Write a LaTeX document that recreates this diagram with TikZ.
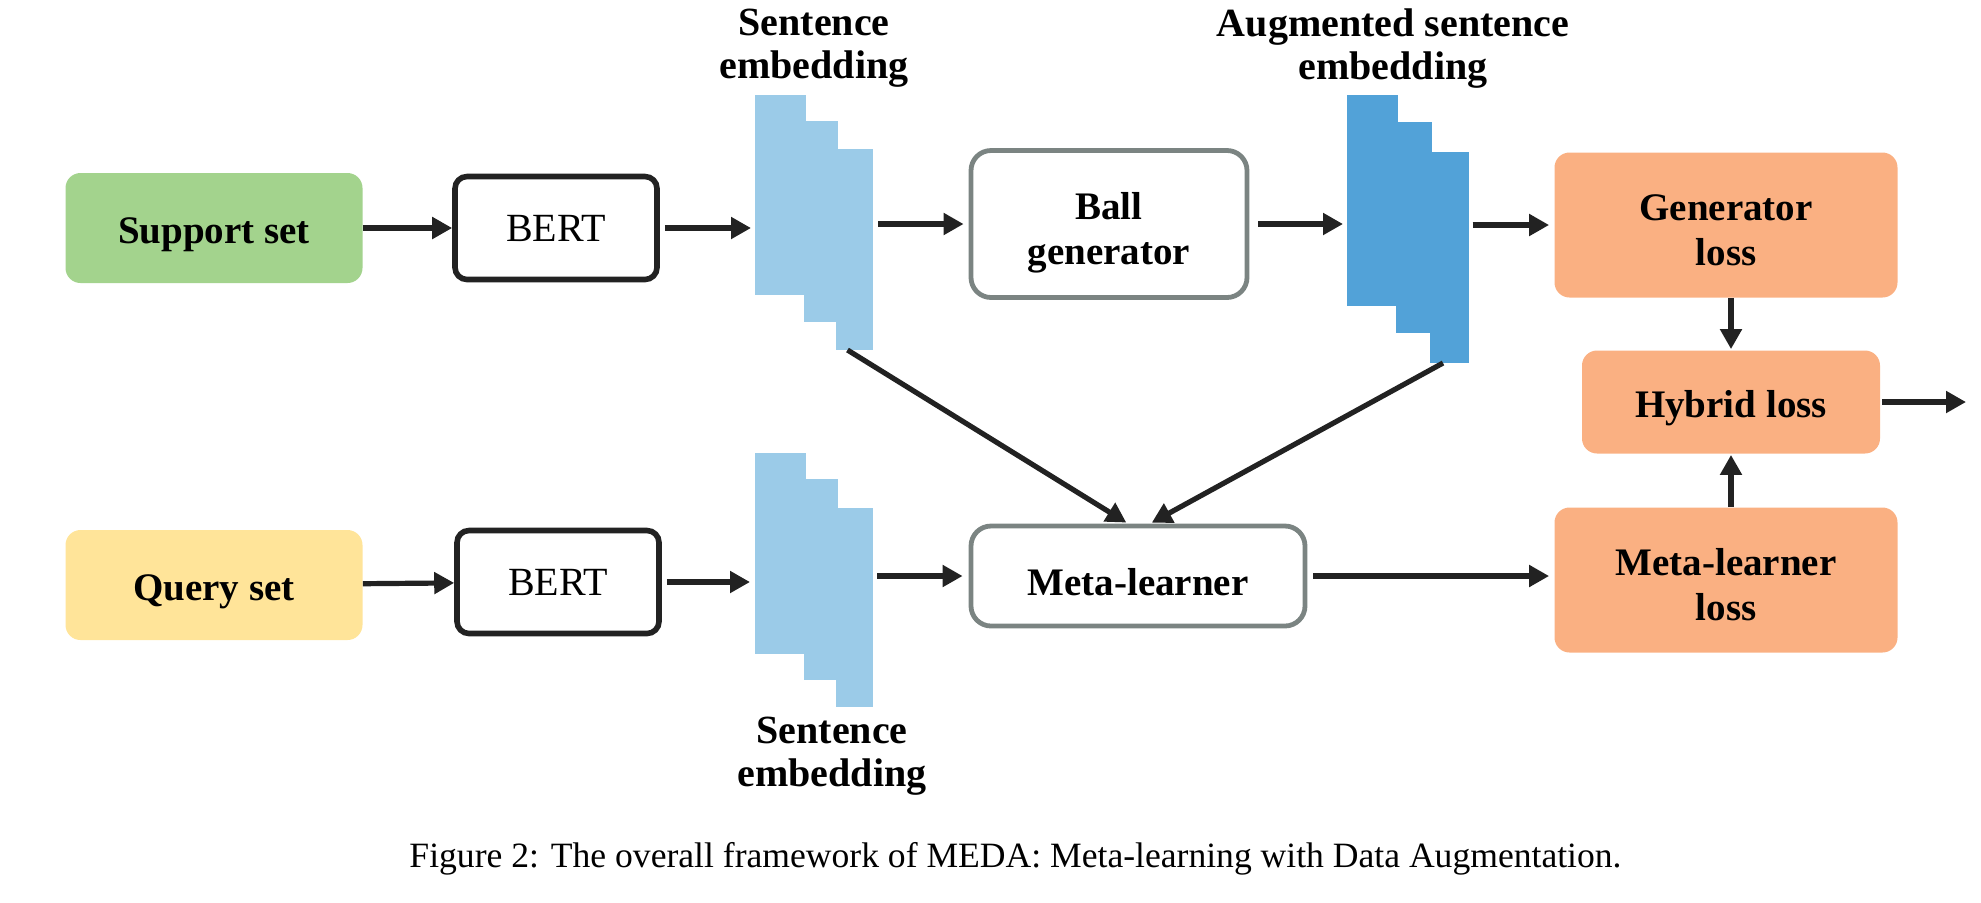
\documentclass[tikz,border=0pt]{standalone}
\usepackage{fontspec}
\setmainfont{Liberation Serif}
\usetikzlibrary{arrows.meta}

\definecolor{supgreen}{HTML}{A3D38D}
\definecolor{qryyellow}{HTML}{FFE499}
\definecolor{lossorange}{HTML}{FAB082}
\definecolor{embblue}{HTML}{9BCBE8}
\definecolor{augblue}{HTML}{52A2D8}
\definecolor{edgegray}{HTML}{7B8482}
\definecolor{inkblack}{HTML}{222222}

\begin{document}
\begin{tikzpicture}[x=0.5pt, y=-0.5pt,
  boxfont/.style={font=\fontsize{19.5}{22.5}\selectfont\bfseries, align=center,
    execute at begin node={\rule{0pt}{19.3pt}}},
  twoline/.style={text height=40pt, text depth=0pt},
  colbox/.style={rectangle, rounded corners=7.5pt, inner sep=0pt, boxfont},
  bertbox/.style={rectangle, rounded corners=6pt, draw=inkblack, line width=2.8pt,
    inner sep=0pt, font=\fontsize{20}{22.5}\selectfont,
    minimum width=101pt, minimum height=51.5pt},
  graybox/.style={rectangle, rounded corners=10pt, draw=edgegray, line width=2.4pt,
    inner sep=0pt, boxfont},
  embcol/.style={rectangle, inner sep=0pt, outer sep=0pt, draw=none},
  emblbl/.style={font=\fontsize{20}{21.5}\selectfont\bfseries, align=center,
    anchor=north, inner sep=0pt},
  flow/.style={-{Triangle[length=10pt,width=10.5pt]}, line width=2.6pt, draw=inkblack}]
\useasboundingbox (0,0) rectangle (1981,902);

% input sets
\node[colbox, fill=supgreen, minimum width=148.5pt, minimum height=55pt] (support) at (214,228) {Support set};
\node[colbox, fill=qryyellow, minimum width=148.5pt, minimum height=55pt] (query) at (214,585) {Query set};

% encoders
\node[bertbox] (bertS) at (556,228) {BERT};
\node[bertbox] (bertQ) at (558,582) {BERT};

% sentence embedding (support), three stepped columns
\node[embcol, fill=embblue, minimum width=25.5pt, minimum height=100pt] (embS1) at (780.5,195) {};
\node[embcol, fill=embblue, minimum width=17pt, minimum height=100.5pt] (embS2) at (821,221.5) {};
\node[embcol, fill=embblue, minimum width=18.5pt, minimum height=100.5pt] (embS3) at (854.5,249.5) {};
\node[emblbl] (lblS) at (814,9) {Sentence\\embedding};

% sentence embedding (query)
\node[embcol, fill=embblue, minimum width=25.5pt, minimum height=100.5pt] (embQ1) at (780.5,553.5) {};
\node[embcol, fill=embblue, minimum width=17pt, minimum height=100.5pt] (embQ2) at (821,579.5) {};
\node[embcol, fill=embblue, minimum width=18.5pt, minimum height=99.5pt] (embQ3) at (854.5,607.5) {};
\node[emblbl] (lblQ) at (832,717) {Sentence\\embedding};

% ball generator and meta-learner
\node[graybox, twoline, minimum width=138pt, minimum height=73.5pt] (ball) at (1109,224) {Ball\\generator};
\node[graybox, minimum width=167pt, minimum height=50pt] (meta) at (1138,576) {Meta-learner};

% augmented sentence embedding
\node[embcol, fill=augblue, minimum width=25.5pt, minimum height=105.5pt] (embA1) at (1372.5,200.5) {};
\node[embcol, fill=augblue, minimum width=18pt, minimum height=105.5pt] (embA2) at (1414,227.5) {};
\node[embcol, fill=augblue, minimum width=19.5pt, minimum height=105.5pt] (embA3) at (1449,257.5) {};
\node[emblbl] (lblA) at (1393,8) {Augmented sentence\\embedding};

% losses
\node[colbox, twoline, fill=lossorange, minimum width=171.5pt, minimum height=72.5pt] (genloss) at (1726,225) {Generator\\loss};
\node[colbox, fill=lossorange, minimum width=149pt, minimum height=51.5pt] (hybrid) at (1731,402) {Hybrid loss};
\node[colbox, twoline, fill=lossorange, minimum width=171.5pt, minimum height=72.5pt] (metaloss) at (1726,580) {Meta-learner\\loss};
\coordinate (out) at (1966,402);

% top row
\draw[flow] (support) -- (bertS);
\draw[flow, shorten <=2.5pt, shorten >=2pt] (bertS.east) -- (bertS.east -| embS1.west);
\draw[flow, shorten <=2.5pt, shorten >=2.5pt] (embS3.east |- ball) -- (ball.west);
\draw[flow, shorten <=4.5pt, shorten >=2pt] (ball.east) -- (ball.east -| embA1.west);
\draw[flow, shorten <=2pt, shorten >=2.5pt] (embA3.east |- genloss) -- (genloss.west);

% bottom row
\draw[flow] (query) -- (bertQ);
\draw[flow, shorten <=2.5pt, shorten >=2.5pt] (bertQ.east) -- (bertQ.east -| embQ1.west);
\draw[flow, shorten <=2pt, shorten >=3pt] (embQ3.east |- meta) -- (meta.west);
\draw[flow, shorten <=3pt, shorten >=2.5pt] (meta.east) -- (meta.east -| metaloss.west);

% embeddings into the meta-learner
\draw[flow, shorten >=1pt] ([xshift=-3.5pt]embS3.south) -- ([xshift=-5pt]meta.north);
\draw[flow, shorten >=1pt] ([xshift=-3pt]embA3.south) -- ([xshift=6pt]meta.north);

% hybrid loss
\draw[flow, shorten >=0.5pt] (genloss.south -| hybrid) -- (hybrid.north);
\draw[flow, shorten >=0.5pt] (metaloss.north -| hybrid) -- (hybrid.south);
\draw[flow, shorten <=1pt] (hybrid.east) -- (out);

% caption
\node[anchor=base, inner sep=0pt, font=\fontsize{17.8}{20}\selectfont] (caption) at (1015.5,867)
  {Figure 2: The overall framework of MEDA: Meta-learning with Data Augmentation.};
\end{tikzpicture}
\end{document}
